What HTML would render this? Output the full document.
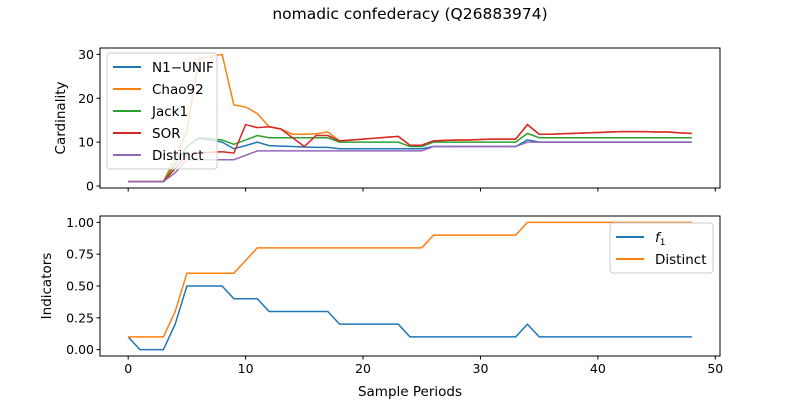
<!DOCTYPE html>
<html><head><meta charset="utf-8"><style>
body{margin:0;background:#fff;}
svg{font-family:"DejaVu Sans","Liberation Sans",sans-serif;}
</style></head><body>
<svg id="chart" width="800" height="400" xmlns="http://www.w3.org/2000/svg">
<rect width="800" height="400" fill="#fff"/>
<text x="410" y="19" font-size="15.5" text-anchor="middle">nomadic confederacy (Q26883974)</text>
<g id="top"></g><g id="bot"></g>
</svg>
<script>
const n1Unif=[1,1,1,1,5,9,10.8,10.5,10,8.5,9.2,10,9.2,9.1,9,8.9,8.8,8.8,8.5,8.5,8.5,8.5,8.5,8.5,8.5,8.5,9,9,9,9,9,9,9,9,10.5,10,10,10,10,10,10,10,10,10,10,10,10,10,10];
const chao92=[1,1,1,1,6.5,12.5,29,29.5,30,18.5,18,16.5,13.5,13,11.8,11.8,11.9,12.3,10.3,10.5,10.7,10.9,11.1,11.3,9.3,9.3,10.3,10.4,10.5,10.5,10.6,10.7,10.7,10.7,14,11.8,11.8,11.9,12,12.1,12.2,12.3,12.4,12.4,12.4,12.3,12.3,12.1,12];
const jack1=[1,1,1,1,5,9,11,10.8,10.5,9.5,10.5,11.5,11,11,11,11,11,11,10,10,10,10,10,10,9,9,10,10,10,10,10,10,10,10,12,11,11,11,11,11,11,11,11,11,11,11,11,11,11];
const sor=[1,1,1,1,4,7,7.5,7.7,7.8,7.5,14,13.3,13.5,13,11,9,11.5,11.5,10.3,10.5,10.7,10.9,11.1,11.3,9.3,9.3,10.3,10.4,10.5,10.5,10.6,10.7,10.7,10.7,14,11.8,11.8,11.9,12,12.1,12.2,12.3,12.4,12.4,12.4,12.3,12.3,12.1,12];
const distinct=[1,1,1,1,3,6,6,6,6,6,7,8,8,8,8,8,8,8,8,8,8,8,8,8,8,8,9,9,9,9,9,9,9,9,10,10,10,10,10,10,10,10,10,10,10,10,10,10,10];
const f1=[0.1,0,0,0,0.2,0.5,0.5,0.5,0.5,0.4,0.4,0.4,0.3,0.3,0.3,0.3,0.3,0.3,0.2,0.2,0.2,0.2,0.2,0.2,0.1,0.1,0.1,0.1,0.1,0.1,0.1,0.1,0.1,0.1,0.2,0.1,0.1,0.1,0.1,0.1,0.1,0.1,0.1,0.1,0.1,0.1,0.1,0.1,0.1];
const distinctInd=[0.1,0.1,0.1,0.1,0.3,0.6,0.6,0.6,0.6,0.6,0.7,0.8,0.8,0.8,0.8,0.8,0.8,0.8,0.8,0.8,0.8,0.8,0.8,0.8,0.8,0.8,0.9,0.9,0.9,0.9,0.9,0.9,0.9,0.9,1,1,1,1,1,1,1,1,1,1,1,1,1,1,1];
const xTicks=[0,10,20,30,40,50];
const topTicks=[0,10,20,30];
const botTicks=[0,0.25,0.5,0.75,1];
const botTickLabels=["0.00","0.25","0.50","0.75","1.00"];

const NS="http://www.w3.org/2000/svg";
const L=100,R=720;
const xs=v=>L+(v+2.4)/52.8*(R-L);
function mk(p,t,a){const e=document.createElementNS(NS,t);for(const k in a)e.setAttribute(k,a[k]);p.appendChild(e);return e;}
function axes(g,top,bot,ymin,ymax,yt,ytl,ylabel,showX,series,legend){
  const ys=v=>bot-(v-ymin)/(ymax-ymin)*(bot-top);
  series.forEach(s=>{
    const pl=mk(g,'polyline',{points:s.d.map((v,i)=>xs(i)+','+ys(v)).join(' '),fill:'none',stroke:s.c,'stroke-width':1.5});
    
    
  });
  const fr=mk(g,'rect',{x:L,y:top,width:R-L,height:bot-top,fill:'none',stroke:'#000','stroke-width':1});
  
  
  xTicks.forEach(t=>{
    mk(g,'line',{x1:xs(t),x2:xs(t),y1:bot,y2:bot+3.5,stroke:'#000'});
    if(showX){const tx=mk(g,'text',{x:xs(t),y:bot+17,'font-size':12.5,'text-anchor':'middle'});tx.textContent=t;
      
      }
  });
  yt.forEach((t,i)=>{
    mk(g,'line',{x1:L-3.5,x2:L,y1:ys(t),y2:ys(t),stroke:'#000'});
    const tx=mk(g,'text',{x:L-6,y:ys(t)+4.5,'font-size':12.5,'text-anchor':'end'});tx.textContent=ytl[i];
    
    
  });
  const yl=mk(g,'text',{x:0,y:0,'font-size':13.5,'text-anchor':'middle',transform:`translate(${ytl[0].length>2?51:65},${(top+bot)/2}) rotate(-90)`});
  yl.textContent=ylabel;
  
  
  const lg=mk(g,'g',{});
  
  
  mk(lg,'rect',{x:legend.x,y:legend.y,width:legend.w,height:series.length*22+6,fill:'#fff','fill-opacity':0.8,stroke:'#ccc',rx:3});
  series.forEach((s,i)=>{
    const yy=legend.y+14+i*22;
    mk(lg,'line',{x1:legend.x+6,x2:legend.x+34,y1:yy,y2:yy,stroke:s.c,'stroke-width':2});
    const tx=mk(lg,'text',{x:legend.x+45,y:yy+5,'font-size':13.5});
    tx.innerHTML=s.lab;
    
    
  });
}
axes(document.getElementById('top'),48,188,-0.45,31.45,topTicks,topTicks.map(String),'Cardinality',false,
 [{id:'n1-unif',d:n1Unif,c:'#1f77b4',lab:'N1\u2212UNIF'},{id:'chao92',d:chao92,c:'#ff7f0e',lab:'Chao92'},{id:'jack1',d:jack1,c:'#2ca02c',lab:'Jack1'},{id:'sor',d:sor,c:'#d62728',lab:'SOR'},{id:'distinct',d:distinct,c:'#9467bd',lab:'Distinct'}],
 {x:107,y:53,w:110});
axes(document.getElementById('bot'),216,356,-0.05,1.05,botTicks,botTickLabels,'Indicators',true,
 [{id:'f1',d:f1,c:'#1f77b4',lab:'<tspan font-style="italic">f</tspan><tspan font-size="9" dy="3">1</tspan>'},{id:'distinct-indicator',d:distinctInd,c:'#ff7f0e',lab:'Distinct'}],
 {x:610,y:223,w:103});
const xl=mk(document.getElementById('chart'),'text',{x:410,y:396,'font-size':13.5,'text-anchor':'middle'});
xl.textContent='Sample Periods';


</script>
</body></html>
